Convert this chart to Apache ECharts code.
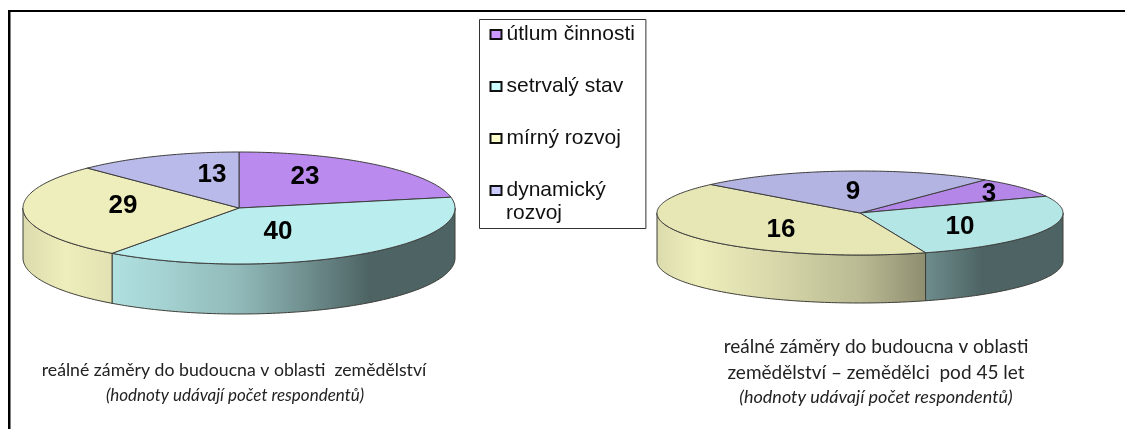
<!DOCTYPE html>
<html><head><meta charset="utf-8">
<style>html,body{margin:0;padding:0;background:#fff}#c{width:1125px;height:429px}</style>
<script src="https://cdn.jsdelivr.net/npm/echarts@6/dist/echarts.min.js"></script>
</head><body><div id="c"></div>
<script>
// Data
const categories = ['útlum činnosti', 'setrvalý stav', 'mírný rozvoj', 'dynamický rozvoj'];
const allFarmers = [23, 40, 29, 13];
const youngFarmers = [3, 10, 16, 9];
const pieTitles = ['reálné záměry do budoucna v oblasti  zemědělství',
  'reálné záměry do budoucna v oblasti', 'zemědělství – zemědělci  pod 45 let'];
const pieNote = '(hodnoty udávají počet respondentů)';

// Style and layout
const topColors = ['#BA8AEE', '#BAEDED', '#EEEEBC', '#BABAEA'];
const legendColors = ['#CC99FF', '#CCFFFF', '#FFFFCC', '#CCCCFF'];
const pies = [
  { values: allFarmers, cx: 239, cy: 208, rx: 216, ry: 56, depth: 50, start: 0, tint: 1,
    labels: [[305, 177], [278, 232], [123, 206], [212, 175]] },
  { values: youngFarmers, cx: 860, cy: 213, rx: 203, ry: 42, depth: 48, start: 38, tint: .97,
    labels: [[989, 194], [960, 227], [781, 230], [853, 192]] }
];
const shade = [[0, .92], [.1, 1], [.3, .9], [.5, .78], [.64, .62], [.8, .42], [1, .42]];

function scaleColor(hex, k) {
  const n = parseInt(hex.slice(1), 16);
  const c = s => Math.round(((n >> s) & 255) * k);
  return `rgb(${c(16)},${c(8)},${c(0)})`;
}
function arcPoints(p, a0, a1, dy) {
  const pts = [], steps = Math.max(2, Math.ceil(Math.abs(a1 - a0)));
  for (let i = 0; i <= steps; i++) {
    const a = (a0 + (a1 - a0) * i / steps) * Math.PI / 180;
    pts.push([p.cx + p.rx * Math.sin(a), p.cy - p.ry * Math.cos(a) + dy]);
  }
  return pts;
}
function renderSlice(catIndex) {
  return function (params, api) {
    const p = pies[api.value(0)];
    const total = p.values.reduce((a, b) => a + b, 0);
    const before = p.values.slice(0, catIndex).reduce((a, b) => a + b, 0);
    const a0 = p.start + before / total * 360;
    const a1 = a0 + api.value(1) / total * 360;
    const children = [];
    // front wall: the part of the rim between 90 and 270 degrees
    [0, 360].forEach(shift => {
      const s0 = Math.max(a0, 90 + shift), s1 = Math.min(a1, 270 + shift);
      if (s1 <= s0) return;
      const pts = arcPoints(p, s0, s1, 0).concat(arcPoints(p, s1, s0, p.depth));
      children.push({
        type: 'polygon', z2: 1, shape: { points: pts },
        style: {
          fill: new echarts.graphic.LinearGradient(p.cx - p.rx, 0, p.cx + p.rx, 0,
            shade.map(s => ({ offset: s[0], color: scaleColor(topColors[catIndex], s[1]) })), true),
          stroke: '#3e3e38', lineWidth: 1
        }
      });
    });
    children.push({
      type: 'polygon', z2: 2,
      shape: { points: [[p.cx, p.cy]].concat(arcPoints(p, a0, a1, 0)) },
      style: { fill: scaleColor(topColors[catIndex], p.tint), stroke: '#3e3e3e', lineWidth: 1 }
    });
    const lab = p.labels[catIndex];
    children.push({
      type: 'text', z2: 5, x: lab[0], y: lab[1],
      style: { text: String(api.value(1)), fill: '#000', font: 'bold 26px "Liberation Sans"',
        align: 'center', verticalAlign: 'middle' }
    });
    return { type: 'group', children };
  };
}
const series = categories.map((name, i) => ({
  type: 'custom', name, coordinateSystem: 'none', silent: true, animation: false,
  itemStyle: { color: legendColors[i] },
  renderItem: renderSlice(i),
  data: pies.map((p, k) => [k, p.values[i]])
}));
const titleText = (text, x, y, italic, size) => ({
  text, left: x, top: y, textAlign: 'center', padding: 0,
  textStyle: { fontFamily: 'Lato', fontSize: size, fontWeight: 'normal',
    fontStyle: italic ? 'italic' : 'normal', color: '#222' }
});
const legendNames = categories[3].split(' ');
const option = {
  animation: false, backgroundColor: '#fff',
  title: [
    titleText(pieTitles[0], 234, 361, false, 17.7),
    titleText(pieNote, 235, 387, true, 17),
    titleText(pieTitles[1], 876, 337, false, 19),
    titleText(pieTitles[2], 876, 363, false, 19),
    titleText(pieNote, 876, 388, true, 18)
  ],
  legend: {
    orient: 'vertical', left: 479.5, top: 19.5, padding: [4, 11, 27, 10], itemGap: 30,
    borderColor: '#333', borderWidth: 1, backgroundColor: '#fff',
    icon: 'rect', itemWidth: 11, itemHeight: 9,
    itemStyle: { borderColor: '#111', borderWidth: 2 },
    selectedMode: false,
    data: categories,
    formatter: n => n === categories[3] ? legendNames[0] : n,
    textStyle: { fontFamily: 'Liberation Sans', fontSize: 21, color: '#111', lineHeight: 22 }
  },
  graphic: [
    { type: 'rect', silent: true, z: 10, shape: { x: 8, y: 10, width: 2.5, height: 419 }, style: { fill: '#000' } },
    { type: 'rect', silent: true, z: 10, shape: { x: 8, y: 10, width: 1117, height: 2 }, style: { fill: '#000' } },
    { type: 'text', silent: true, z: 10, x: 506, y: 213,
      style: { text: legendNames[1], fill: '#111', font: '21px "Liberation Sans"', verticalAlign: 'middle' } }
  ],
  series
};
echarts.init(document.getElementById('c')).setOption(option);
</script></body></html>
